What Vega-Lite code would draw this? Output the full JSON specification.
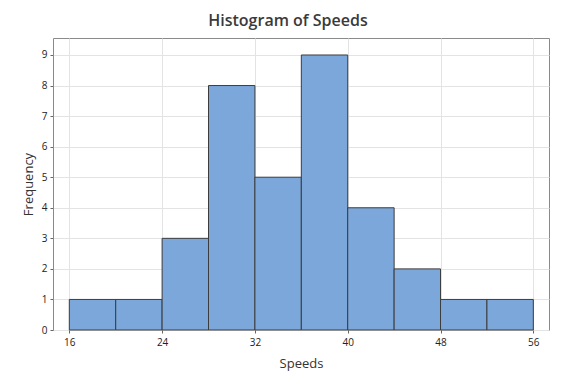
{
  "$schema": "https://vega.github.io/schema/vega-lite/v6.json",
  "autosize": "none",
  "width": 496,
  "height": 292,
  "padding": {"left": 53, "top": 38, "right": 27, "bottom": 54},
  "background": "white",
  "title": {"text": "Histogram of Speeds", "fontSize": 16, "font": "Open Sans", "fontWeight": 600, "color": "#3a3a3a", "offset": 9, "dx": -13},
  "data": {"values": [
    {"start": 16, "end": 20, "count": 1},
    {"start": 20, "end": 24, "count": 1},
    {"start": 24, "end": 28, "count": 3},
    {"start": 28, "end": 32, "count": 8},
    {"start": 32, "end": 36, "count": 5},
    {"start": 36, "end": 40, "count": 9},
    {"start": 40, "end": 44, "count": 4},
    {"start": 44, "end": 48, "count": 2},
    {"start": 48, "end": 52, "count": 1},
    {"start": 52, "end": 56, "count": 1}
  ]},
  "mark": {"type": "bar", "fill": "#7BA7DB", "stroke": "#3c3c3c", "strokeWidth": 1},
  "encoding": {
    "x": {"field": "start", "type": "quantitative", "title": "Speeds",
      "scale": {"domain": [14.595, 57.35], "nice": false, "zero": false},
      "axis": {"values": [16, 24, 32, 40, 48, 56], "domain": false, "tickColor": "#666", "tickSize": 3, "labelFontSize": 10, "labelColor": "#222", "labelFont": "Open Sans", "titleFont": "Open Sans", "titleFontSize": 13, "titleFontWeight": "normal", "titleColor": "#333", "titlePadding": 10, "gridColor": "#e3e3e3", "labelPadding": 4}},
    "x2": {"field": "end"},
    "y": {"field": "count", "type": "quantitative", "title": "Frequency",
      "scale": {"domain": [0, 9.556], "nice": false},
      "axis": {"values": [0, 1, 2, 3, 4, 5, 6, 7, 8, 9], "domain": false, "tickColor": "#666", "tickSize": 3, "labelFontSize": 10, "labelColor": "#222", "labelFont": "Open Sans", "titleFont": "Open Sans", "titleFontSize": 13, "titleFontWeight": "normal", "titleColor": "#333", "titlePadding": 6, "gridColor": "#e3e3e3", "labelPadding": 3}},
    "y2": {"datum": 0}
  },
  "config": {"view": {"stroke": "#8a8a8a", "strokeWidth": 1}}
}
